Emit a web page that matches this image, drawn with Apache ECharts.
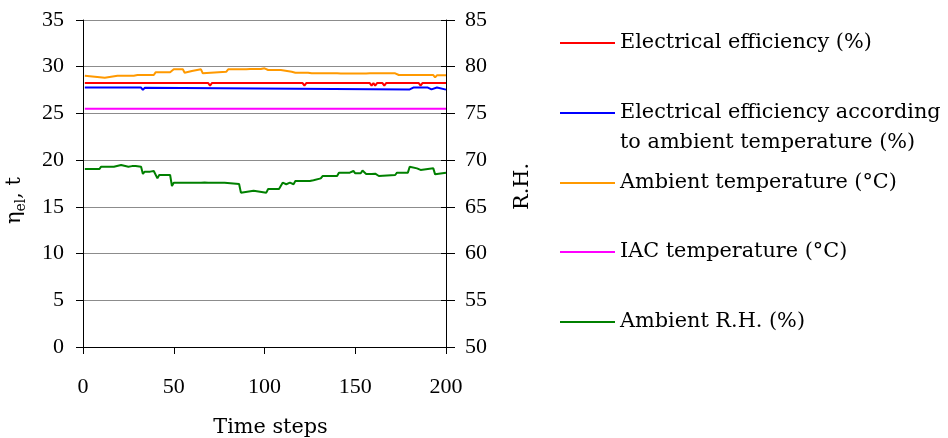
<!DOCTYPE html>
<html>
<head>
<meta charset="utf-8">
<script src="https://cdn.jsdelivr.net/npm/echarts@6/dist/echarts.min.js"></script>
<style>
  html, body { margin: 0; padding: 0; background: #fff; }
  #chart { width: 948px; height: 438px; }
</style>
</head>
<body>
<div id="chart"></div>
<script>
// Series names
const seriesNames = [
  'Electrical efficiency (%)',
  'Electrical efficiency according to ambient temperature (%)',
  'Ambient temperature (°C)',
  'IAC temperature (°C)',
  'Ambient R.H. (%)'
];

// [time step, value] at each point where a series changes
const efficiency = [
  [1, 28.25], [69, 28.25], [70, 27.98], [71, 28.25], [121, 28.25], [122, 27.98], [123, 28.25],
  [158, 28.25], [159, 27.98], [160, 28.25], [161, 27.98], [162, 28.25], [165, 28.25], [166, 27.98],
  [167, 28.25], [185, 28.25], [186, 27.98], [187, 28.25], [200, 28.25]
];

const efficiencyAmbient = [
  [1, 27.77], [32, 27.77], [33, 27.52], [34, 27.74], [35, 27.57], [180, 27.57], [182, 27.77],
  [185, 27.77], [186, 27.57], [187, 27.77], [190, 27.77], [191, 27.57], [192, 27.57], [193, 27.77],
  [195, 27.77], [196, 27.57], [200, 27.55]
];

const ambientTemp = [
  [1, 29.04], [2, 28.83], [12, 28.83], [13, 29.04], [19, 29.04], [20, 28.83], [21, 29.04], [28, 29.04],
  [29, 28.86], [30, 29.11], [39, 29.11], [40, 29.40], [48, 29.40], [50, 29.72], [55, 29.72], [56, 29.36],
  [57, 29.54], [60, 29.54], [61, 29.72], [65, 29.72], [66, 29.29], [67, 29.47], [79, 29.47], [80, 29.72],
  [88, 29.72], [89, 29.93], [90, 29.72], [91, 29.93], [92, 29.75], [98, 29.75], [99, 29.90], [100, 29.83],
  [101, 29.83], [102, 29.65], [109, 29.65], [110, 29.47], [115, 29.47], [116, 29.65], [117, 29.36],
  [120, 29.36], [121, 29.47], [122, 29.36], [124, 29.36], [125, 29.47], [126, 29.29], [140, 29.29],
  [141, 29.11], [142, 29.27], [156, 29.27], [157, 29.08], [158, 29.29], [172, 29.29], [173, 29.36],
  [174, 29.11], [193, 29.11], [194, 28.86], [195, 29.08], [200, 29.08]
];

const iacTemp = [
  [1, 25.5], [69, 25.5], [70, 25.7], [71, 25.5], [121, 25.5], [122, 25.7], [123, 25.5],
  [158, 25.5], [159, 25.7], [160, 25.5], [161, 25.7], [162, 25.5], [165, 25.5], [166, 25.7],
  [167, 25.5], [185, 25.5], [186, 25.7], [187, 25.5], [200, 25.5]
];

const ambientRH = [
  [1, 69.05], [9, 69.05], [10, 69.30], [17, 69.30], [18, 69.48], [21, 69.48], [22, 69.30], [25, 69.30],
  [26, 69.45], [27, 69.36], [28, 69.48], [29, 69.38], [30, 69.30], [32, 69.30], [33, 68.52], [34, 68.77],
  [37, 68.77], [38, 68.59], [39, 68.84], [40, 68.84], [41, 68.05], [42, 68.41], [48, 68.41], [49, 67.23],
  [50, 67.59], [63, 67.59], [64, 67.70], [65, 67.59], [66, 67.72], [67, 67.60], [68, 67.70], [69, 67.59],
  [70, 67.68], [73, 67.59], [78, 67.59], [79, 67.45], [86, 67.45], [87, 66.52], [88, 66.73], [94, 66.73],
  [95, 66.52], [101, 66.52], [102, 66.91], [108, 66.91], [109, 66.73], [110, 67.59], [112, 67.42],
  [114, 67.59], [116, 67.42], [117, 67.77], [125, 67.77], [126, 67.95], [127, 67.85], [128, 68.05],
  [131, 68.05], [132, 68.30], [140, 68.30], [141, 68.66], [147, 68.66], [148, 68.84], [149, 68.84],
  [150, 68.59], [153, 68.59], [154, 68.88], [155, 68.88], [156, 68.52], [159, 68.52], [160, 68.62],
  [161, 68.55], [162, 68.62], [163, 68.30], [164, 68.41], [172, 68.41], [173, 68.66], [179, 68.66],
  [180, 69.30], [181, 69.12], [184, 69.12], [185, 69.30], [186, 68.95], [187, 69.12], [193, 69.12],
  [194, 68.48], [195, 68.66], [200, 68.66]
];

const seriesData = [efficiency, efficiencyAmbient, ambientTemp, iacTemp, ambientRH];
const seriesColors = ['#ff0000', '#0000ff', '#ff9900', '#ff00ff', '#008000'];
const seriesAxis = [0, 0, 0, 0, 1];

const NUM_FONT = 'Liberation Serif';
const TEXT_FONT = 'DejaVu Serif';
const TEXT_SIZE = 20.8;
const chart = echarts.init(document.getElementById('chart'), null, { renderer: 'canvas' });

// one legend block per entry, stacked down the right side
const legendTops = [28, 68, 168, 237, 307];
const legends = seriesNames.map((name, i) => ({
  data: [name],
  left: 560,
  top: legendTops[i],
  padding: 0,
  icon: 'rect',
  itemWidth: 55,
  itemHeight: 2,
  itemGap: 0,
  selectedMode: false,
  formatter: i === 1 ? '\nElectrical efficiency according\nto ambient temperature (%)' : '{name}',
  textStyle: { fontFamily: TEXT_FONT, fontSize: TEXT_SIZE, color: '#000', lineHeight: 30, padding: [0, 0, 0, 0] }
}));

const axisLabelStyle = { fontFamily: NUM_FONT, fontSize: 22, color: '#000' };

chart.setOption({
  animation: false,
  backgroundColor: '#fff',
  legend: legends,
  grid: { left: 83, right: 502, top: 20, bottom: 91, containLabel: false, outerBoundsMode: 'none' },
  xAxis: {
    type: 'value',
    min: 0, max: 200, interval: 50,
    name: 'Time steps',
    nameLocation: 'middle',
    nameGap: 70,
    nameTextStyle: { fontFamily: TEXT_FONT, fontSize: TEXT_SIZE, color: '#000', padding: [0, 0, 0, 12] },
    axisLine: { show: true, lineStyle: { color: '#000', width: 1 } },
    axisTick: { show: true, inside: false, length: 7, lineStyle: { color: '#000' } },
    axisLabel: Object.assign({ margin: 29 }, axisLabelStyle),
    splitLine: { show: false }
  },
  yAxis: [
    {
      type: 'value', position: 'left',
      min: 0, max: 35, interval: 5,
      name: '{a|η}{s|el}{a|, t}',
      nameLocation: 'middle',
      nameGap: 58,
      nameRotate: 90,
      nameTextStyle: {
        padding: [0, 34, 0, 0],
        rich: {
          a: { fontFamily: TEXT_FONT, fontSize: TEXT_SIZE, color: '#000', lineHeight: 26, verticalAlign: 'bottom' },
          s: { fontFamily: TEXT_FONT, fontSize: 14, color: '#000', lineHeight: 26, verticalAlign: 'bottom', padding: [0, 0, -3, 0] }
        }
      },
      axisLine: { show: true, lineStyle: { color: '#000', width: 1 } },
      axisTick: { show: true, inside: false, length: 7, lineStyle: { color: '#000' } },
      axisLabel: Object.assign({ margin: 19 }, axisLabelStyle),
      splitLine: { show: true, lineStyle: { color: '#8c8c8c', width: 1 } }
    },
    {
      type: 'value', position: 'right',
      min: 50, max: 85, interval: 5,
      name: 'R.H.',
      nameLocation: 'middle',
      nameGap: 66,
      nameRotate: 90,
      nameTextStyle: { fontFamily: TEXT_FONT, fontSize: TEXT_SIZE, color: '#000', padding: [0, 6, 0, 0] },
      axisLine: { show: true, lineStyle: { color: '#000', width: 1 } },
      axisTick: { show: true, inside: false, length: 9, lineStyle: { color: '#000' } },
      axisLabel: Object.assign({ margin: 19 }, axisLabelStyle),
      splitLine: { show: false }
    },
    {
      // inner half of the right-hand tick marks
      type: 'value', position: 'right',
      min: 50, max: 85, interval: 5,
      axisLine: { show: false },
      axisTick: { show: true, inside: true, length: 5, lineStyle: { color: '#000' } },
      axisLabel: { show: false },
      splitLine: { show: false }
    }
  ],
  series: seriesNames.map((name, i) => ({
    name: name,
    type: 'line',
    yAxisIndex: seriesAxis[i],
    data: seriesData[i],
    symbol: 'none',
    showSymbol: false,
    lineStyle: { color: seriesColors[i], width: 2 },
    itemStyle: { color: seriesColors[i] },
    silent: true
  }))
});
</script>
</body>
</html>
